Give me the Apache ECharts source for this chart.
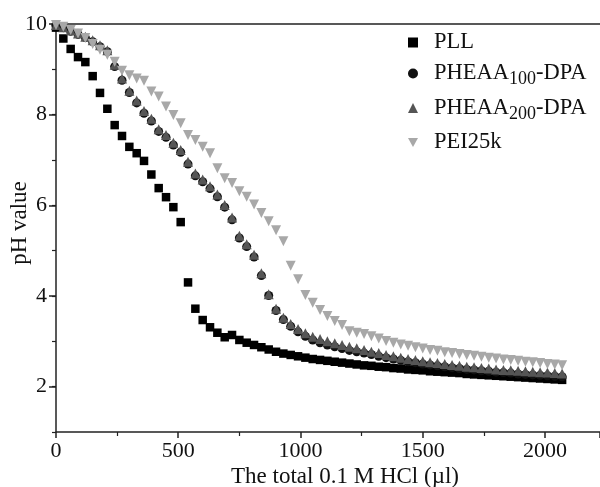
<!DOCTYPE html>
<html>
<head>
<meta charset="utf-8">
<script src="https://cdn.jsdelivr.net/npm/echarts@6/dist/echarts.min.js"></script>
<style>html,body{margin:0;padding:0;background:#fff}#c{width:600px;height:487px}</style>
</head>
<body>
<div id="c"></div>
<script>
var volumes = [0,30,60,90,120,150,180,210,240,270,300,330,360,390,420,450,480,510,540,570,600,630,660,690,720,750,780,810,840,870,900,930,960,990,1020,1050,1080,1110,1140,1170,1200,1230,1260,1290,1320,1350,1380,1410,1440,1470,1500,1530,1560,1590,1620,1650,1680,1710,1740,1770,1800,1830,1860,1890,1920,1950,1980,2010,2040,2070];
var pll = [9.92,9.68,9.45,9.27,9.16,8.85,8.48,8.13,7.77,7.53,7.29,7.15,6.98,6.68,6.38,6.18,5.96,5.63,4.30,3.72,3.47,3.31,3.19,3.09,3.14,3.03,2.97,2.92,2.87,2.82,2.77,2.73,2.70,2.67,2.64,2.61,2.59,2.57,2.55,2.53,2.51,2.49,2.47,2.46,2.44,2.43,2.41,2.40,2.38,2.37,2.36,2.34,2.33,2.32,2.31,2.30,2.28,2.27,2.26,2.25,2.24,2.23,2.22,2.21,2.20,2.19,2.18,2.17,2.16,2.15];
var pheaa100 = [9.97,9.92,9.84,9.77,9.70,9.61,9.50,9.39,9.06,8.76,8.49,8.26,8.03,7.86,7.63,7.50,7.33,7.17,6.91,6.65,6.52,6.37,6.19,5.96,5.68,5.28,5.09,4.86,4.45,4.01,3.68,3.48,3.33,3.21,3.11,3.03,2.97,2.92,2.88,2.84,2.80,2.77,2.74,2.71,2.67,2.64,2.61,2.58,2.55,2.53,2.50,2.48,2.46,2.44,2.42,2.40,2.38,2.37,2.35,2.34,2.32,2.31,2.30,2.28,2.27,2.26,2.25,2.24,2.23,2.22];
var pheaa200 = [9.98,9.93,9.86,9.79,9.72,9.64,9.53,9.42,9.10,8.80,8.53,8.31,8.08,7.91,7.68,7.55,7.38,7.22,6.96,6.70,6.57,6.42,6.24,6.01,5.73,5.33,5.14,4.91,4.50,4.04,3.72,3.52,3.38,3.27,3.18,3.10,3.05,3.00,2.96,2.92,2.88,2.85,2.81,2.77,2.74,2.70,2.67,2.64,2.61,2.59,2.56,2.54,2.52,2.50,2.48,2.46,2.44,2.43,2.41,2.40,2.38,2.37,2.36,2.35,2.34,2.33,2.32,2.31,2.30,2.29];
var pei25k = [9.98,9.94,9.87,9.79,9.69,9.56,9.43,9.32,9.17,8.97,8.87,8.80,8.75,8.51,8.40,8.18,7.99,7.81,7.55,7.44,7.29,7.15,6.82,6.60,6.49,6.31,6.19,6.02,5.83,5.65,5.45,5.21,4.67,4.37,4.02,3.85,3.69,3.56,3.45,3.36,3.22,3.19,3.16,3.11,3.06,3.01,2.97,2.93,2.90,2.87,2.84,2.81,2.79,2.76,2.74,2.72,2.70,2.68,2.66,2.64,2.62,2.60,2.59,2.57,2.55,2.54,2.52,2.50,2.49,2.47];
var xTitle = 'The total 0.1 M HCl (\u00b5l)';
var yTitle = 'pH value';
var yMajor = [2,4,6,8,10];

function pairs(ys){ return volumes.map(function(v,i){ return [v, ys[i]]; }); }

var FONT = 'Liberation Serif';
var chart = echarts.init(document.getElementById('c'), null, {renderer:'canvas'});
chart.setOption({
  animation:false,
  backgroundColor:'#fff',
  grid:{left:56, top:24, right:0, bottom:55, containLabel:false, outerBoundsMode:'none'},
  legend:{
    left:403, top:26, orient:'vertical', itemGap:8, itemWidth:10, itemHeight:10,
    data:[
      {name:'PLL', icon:'rect', itemStyle:{color:'#000'}},
      {name:'PHEAA100-DPA', icon:'circle', itemStyle:{color:'#111'}},
      {name:'PHEAA200-DPA', icon:'triangle', itemStyle:{color:'#555'}},
      {name:'PEI25k', icon:'path://M0,0 L10,0 L5,9 Z', itemStyle:{color:'#a8a8a8'}}
    ],
    formatter:function(n){
      if(n==='PHEAA100-DPA') return '{t|PHEAA}{s|100}{t|-DPA}';
      if(n==='PHEAA200-DPA') return '{t|PHEAA}{s|200}{t|-DPA}';
      return '{t|'+n+'}';
    },
    textStyle:{
      color:'#111', fontFamily:FONT, fontSize:22.5, padding:[0,0,0,11],
      rich:{
        t:{fontFamily:FONT, fontSize:22.5, color:'#111'},
        s:{fontFamily:FONT, fontSize:18, color:'#111', padding:[12,0,0,0]}
      }
    }
  },
  xAxis:[{
    type:'value', min:0, max:2225, interval:500,
    axisLine:{show:true, lineStyle:{color:'#222', width:1.5}},
    axisTick:{show:true, inside:false, length:6, lineStyle:{color:'#222', width:1.5}},
    minorTick:{show:true, splitNumber:2, length:4, lineStyle:{color:'#222', width:1.2}},
    axisLabel:{fontFamily:FONT, fontSize:22, color:'#111', margin:8, showMaxLabel:false,
      formatter:function(v){ return String(v); }},
    splitLine:{show:false},
    name:xTitle, nameLocation:'middle', nameGap:33, nameMoveOverlap:false,
    nameTextStyle:{fontFamily:FONT, fontSize:23, color:'#111', padding:[0,0,0,34]}
  },{
    type:'value', position:'top', min:0, max:2225,
    axisLine:{show:true, lineStyle:{color:'#222', width:1.5}},
    axisTick:{show:false}, axisLabel:{show:false}, splitLine:{show:false}
  }],
  yAxis:[{
    type:'value', min:1, max:10, interval:1,
    axisLine:{show:true, lineStyle:{color:'#222', width:1.5}},
    axisTick:{show:true, inside:false, length:4, lineStyle:{color:'#222', width:1.2}},
    axisLabel:{fontFamily:FONT, fontSize:22, color:'#111', margin:9,
      formatter:function(v){ return yMajor.indexOf(v)>=0 ? String(v) : ''; }},
    splitLine:{show:false},
    name:yTitle, nameLocation:'middle', nameGap:25, nameRotate:90, nameMoveOverlap:false,
    nameTextStyle:{fontFamily:FONT, fontSize:23, color:'#111', padding:[0,0,0,10]}
  },{
    type:'value', min:1, max:10, position:'left',
    axisLine:{show:false},
    axisTick:{show:true, inside:false, length:7, customValues:yMajor, lineStyle:{color:'#222', width:1.5}},
    axisLabel:{show:false}, splitLine:{show:false}
  }],
  series:[
    {name:'PLL', type:'scatter', symbol:'rect', symbolSize:8.5, itemStyle:{color:'#000', opacity:1}, data:pairs(pll)},
    {name:'PHEAA100-DPA', type:'scatter', symbol:'circle', symbolSize:9, itemStyle:{color:'#111', opacity:1}, data:pairs(pheaa100)},
    {name:'PHEAA200-DPA', type:'scatter', symbol:'triangle', symbolSize:10, itemStyle:{color:'#555', opacity:1}, data:pairs(pheaa200)},
    {name:'PEI25k', type:'scatter', symbol:'triangle', symbolRotate:180, symbolSize:10, itemStyle:{color:'#a8a8a8', opacity:1}, data:pairs(pei25k)}
  ]
});
</script>
</body>
</html>
